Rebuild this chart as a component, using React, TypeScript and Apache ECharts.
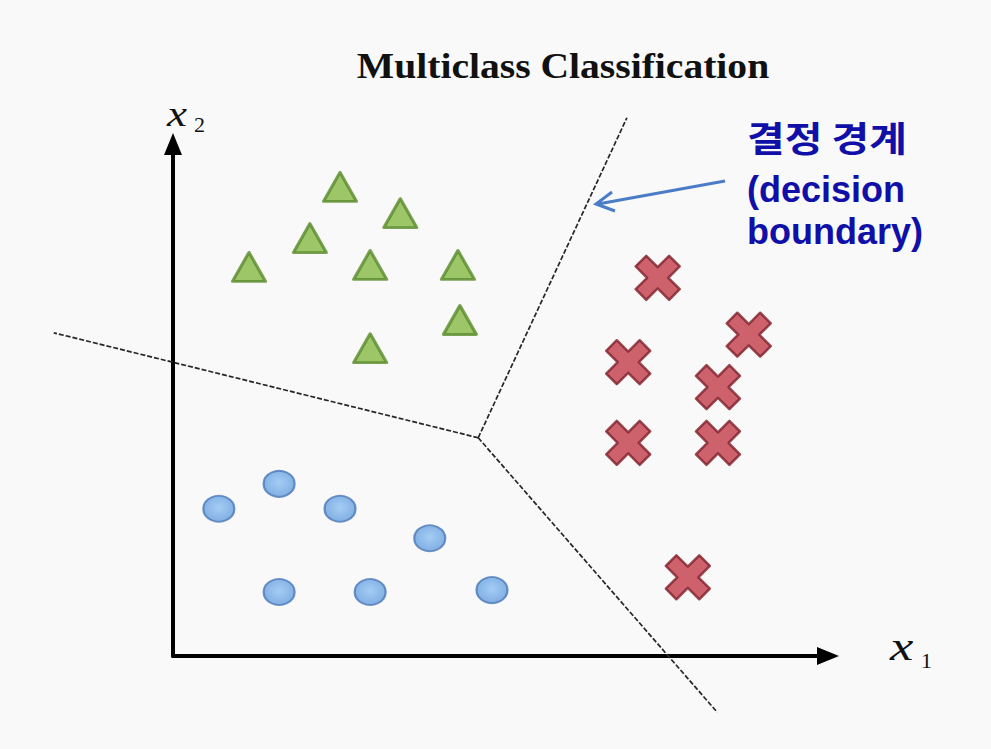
import React, { useEffect, useRef } from 'react';
import * as echarts from 'echarts';

// Class 1: green triangles (x1, x2)
const triangleClass: number[][] = [
  [2.55, 7.33], [3.47, 6.92], [2.09, 6.53], [1.16, 6.08],
  [3.01, 6.11], [4.35, 6.11], [4.38, 5.25], [3.01, 4.81],
];
// Class 2: blue circles
const circleClass: number[][] = [
  [0.70, 2.30], [1.62, 2.69], [2.55, 2.30], [3.92, 1.84],
  [1.62, 1.00], [3.01, 1.00], [4.87, 1.03],
];
// Class 3: red crosses
const crossClass: number[][] = [
  [7.40, 5.91], [8.79, 5.02], [6.95, 4.59], [8.32, 4.20],
  [6.95, 3.33], [8.32, 3.33], [7.86, 1.23],
];
// Decision boundary: junction and three ends
const boundaryJunction: number[] = [4.66, 3.41];
const boundaryEnds: number[][] = [[-1.82, 5.05], [6.93, 8.41], [8.31, -0.88]];

const titleText = 'Multiclass Classification';
const annotationTitle = '결정 경계';
const annotationSub = '(decision\nboundary)';

const crossPath =
  'path://M0,24 L24,0 L50,26 L76,0 L100,24 L74,50 L100,76 L76,100 L50,74 L24,100 L0,76 L26,50 Z';

export default function App() {
  const ref = useRef<HTMLDivElement>(null);
  useEffect(() => {
    const chart = echarts.init(ref.current!, null, { renderer: 'svg' });
    const axisCommon = {
      type: 'value',
      axisLine: {
        show: true,
        onZero: true,
        symbol: ['none', 'triangle'],
        symbolSize: [18, 22],
        lineStyle: { color: '#000', width: 4 },
      },
      axisTick: { show: false },
      axisLabel: { show: false },
      splitLine: { show: false },
    };
    const annFont = '"Noto Sans CJK KR", "Noto Sans", sans-serif';
    const annColor = '#1010a8';
    const txt = (extra: any) => ({
      align: 'left', verticalAlign: 'middle', textAlign: 'left', textVerticalAlign: 'middle', ...extra,
    });
    chart.setOption({
      animation: false,
      backgroundColor: '#f9f9f9',
      grid: { left: 173, top: 144, width: 655, height: 512 },
      xAxis: { ...axisCommon, min: 0, max: 10 },
      yAxis: { ...axisCommon, min: 0, max: 8 },
      series: [
        {
          type: 'custom',
          data: boundaryEnds,
          clip: false,
          silent: true,
          encode: { x: 0, y: 1 },
          z: 1,
          renderItem: (_params: any, api: any) => {
            const p0 = api.coord(boundaryJunction);
            const p1 = api.coord([api.value(0), api.value(1)]);
            return {
              type: 'line',
              shape: { x1: p0[0], y1: p0[1], x2: p1[0], y2: p1[1] },
              style: { stroke: '#262626', lineWidth: 1.7, lineDash: [5, 2], fill: null },
            };
          },
        },
        {
          type: 'scatter',
          data: triangleClass,
          symbol: 'triangle',
          symbolSize: [33, 29],
          itemStyle: { color: '#86b944', borderColor: '#598a2b', borderWidth: 3, borderJoin: 'round' },
          z: 3,
        },
        {
          type: 'scatter',
          data: circleClass,
          symbol: 'circle',
          symbolSize: [31, 26],
          itemStyle: {
            color: {
              type: 'radial', x: 0.5, y: 0.45, r: 0.6,
              colorStops: [
                { offset: 0, color: '#8ec2f3' },
                { offset: 1, color: '#5f98dc' },
              ],
            },
            borderColor: '#4a78b6',
            borderWidth: 2,
          },
          z: 3,
        },
        {
          type: 'scatter',
          data: crossClass,
          symbol: crossPath,
          symbolSize: 44,
          itemStyle: { color: '#c23c4a', borderColor: '#7e1f2a', borderWidth: 2.5, borderJoin: 'round' },
          z: 3,
        },
      ],
      graphic: [
        {
          type: 'text',
          x: 563,
          y: 66,
          scaleX: 1.1,
          style: txt({
            text: titleText,
            font: 'bold 36px "Liberation Serif", serif',
            fill: '#111',
            align: 'center',
            textAlign: 'center',
          }),
        },
        {
          type: 'text', x: 167, y: 114, scaleX: 1.25,
          style: txt({ text: 'x', font: 'italic 36px "Liberation Serif", serif', fill: '#111' }),
        },
        {
          type: 'text', x: 194, y: 124,
          style: txt({ text: '2', font: '22px "Liberation Serif", serif', fill: '#111' }),
        },
        {
          type: 'text', x: 890, y: 646, scaleX: 1.25,
          style: txt({ text: 'x', font: 'italic 42px "Liberation Serif", serif', fill: '#111' }),
        },
        {
          type: 'text', x: 921, y: 660,
          style: txt({ text: '1', font: '22px "Liberation Serif", serif', fill: '#111' }),
        },
        {
          type: 'text',
          x: 747,
          y: 137,
          scaleX: 1.17,
          style: txt({ text: annotationTitle, font: `bold 35px ${annFont}`, fill: annColor }),
        },
        {
          type: 'text',
          x: 747,
          y: 210,
          style: txt({
            text: annotationSub,
            font: 'bold 36px "Liberation Sans", Arial, sans-serif',
            lineHeight: 42,
            fill: annColor,
          }),
        },
        {
          type: 'line',
          shape: { x1: 725, y1: 181, x2: 598, y2: 204 },
          style: { stroke: '#4a7cc8', lineWidth: 3 },
        },
        {
          type: 'polyline',
          shape: { points: [[612, 192], [596, 204], [615, 211]] },
          style: { stroke: '#4a7cc8', lineWidth: 3, fill: 'none' },
        },
      ],
    });
    return () => chart.dispose();
  }, []);
  return (
    <div
      ref={ref}
      style={{ position: 'absolute', left: 0, top: 0, width: 991, height: 749 }}
    />
  );
}
